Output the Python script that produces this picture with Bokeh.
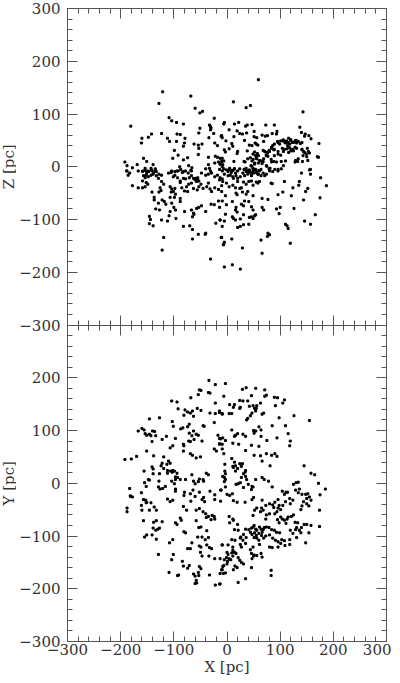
import math
from bokeh.plotting import figure
from bokeh.layouts import row
from bokeh.models import LinearAxis, FixedTicker, Range1d
from bokeh.core.properties import value
from bokeh.embed import file_html
from bokeh.resources import INLINE

# ---------------- X-Z plane (top panel), values in pc ----------------
xz_x_a = [-121,-68,-128,-60,-46,-51,-181,-109,-104,-95,-82,-51,-33,-31,-30,-31,-24,-53,-25,-10,
          -142,-148,-160,-161,-123,-112,-108,-94,-88,-95,-79,-80,-82,-62,-54,-47,-53,-34,-23,-18,
          -99,-54,-35,-22,-92,-102,-74,-82,-157,-151,-192,-188,-178,-169,-139,-143,-154,-149,-135,-141,
          -133,-158,-188,-104,-94,-87,-82,-89,-72,-66,-68,-40,-35,-33,-31,-23,-16,-10,-13,-8,-18,-13]
xz_z_a = [142,134,120,111,105,102,77,93,87,84,81,73,79,76,73,70,92,64,63,59,
          62,56,54,45,63,54,48,62,61,48,54,45,39,43,41,43,35,55,45,40,
          31,23,18,20,22,16,17,13,16,10,9,2,-2,4,4,-3,-3,-8,-4,-8,
          -9,-8,-8,-8,-8,-5,-9,0,2,-2,-7,-4,4,-3,-8,7,9,10,5,4,18,16]

xz_x_b = [59,12,36,44,143,-5,-6,14,22,35, 38,47,73,89,4,19,24,29,37,51,
          66,72,76,85,93,94,137,140,147,154, 158,146,-11,-9,13,-2,33,51,56,53,
          42,47,55,58,9,11,69,86,89,95, 99,105,110,115,120,118,125,130,104,108,
          113,120,124,141,144,151,155,149,173,172, -5,-3,4,19,20,38,52,49,54,57,
          68,72,76,80,74,77,84,89,96,101, 106,-9,-6,13,32,44,49,55,61,59,
          52,47,68,83,88,102,129,133,142,152, 157,-13,-9,5,10,14,35,41,49,60, 75,79,96]
xz_z_b = [165,123,112,116,104,84,81,81,84,77, 79,80,79,79,70,68,63,62,64,67,
          60,58,59,63,62,67,75,65,62,59, 53,58,58,55,57,49,50,57,55,45,
          41,40,43,41,44,39,48,40,43,48, 43,49,45,46,50,43,46,50,35,33,
          34,30,33,33,29,35,26,24,44,18, 32,28,34,25,29,30,28,24,21,25,
          31,28,26,29,22,20,35,33,24,22, 29,16,11,10,10,17,14,16,12,7,
          5,1,10,14,10,10,12,10,10,12, -5,5,0,-3,-7,-4,-5,-7,-4,-7, 1,-4,-5]

xz_x_c = [96,101,106,109,112,116,120,123,128,131, 134,138,141,114,118,121,125,116,128,131,
          141,146,153,143,150,134,128,110,106,93, 96,89,88,84,79,76,74,71,69,64,
          66,74,84,81,90,59,56,52,47,45, 49,54,55,59,64,50,46,40,36,34, 39,32,170]
xz_z_c = [46,49,51,46,49,54,51,46,49,45, 48,44,46,40,36,32,30,27,37,35,
          32,27,29,21,19,15,9,11,2,9, 29,21,32,37,31,27,21,29,15,11,
          6,2,9,-3,-5,21,15,7,11,2, -3,-5,-10,-14,-17,-12,-17,-9,-3,9, 15,-5,19]

xz_x_d = [-189,-183,-186,-167,-159,-154,-151,-147,-142,-138, -135,-157,-154,-152,-148,-143,-139,-133,-128,-123,
          -159,-152,-149,-154,-159,-178,-167,-129,-123,-119, -126,-124,-128,-141,-110,-105,-98,-92,-84,-78,
          -73,-67,-101,-98,-93,-88,-82,-78,-71,-67, -63,-60,-57,-55,-53,-59,-56,-48,-40,-35,
          -29,-23,-18,-13,-9,-107,-104,-98,-101,-105, -97,-99,-107,-88,-85,-76,-72,-74,-80,-88,
          -88,-67,-63,-56,-53,-49,-45,-38,-35,-32, -29,-23,-16,-10,-10,-137,-137,-129,-118,-122,
          -134,-127,-115,-104,-100,-97,-107,-109,-146,-144, -146,-139,-123,-112,-96,-80,-67,-63,-65,-62,
          -57,-53,-48,-40,-30,-24,-16,-14,-82,-70, -65,-65,-54,-41,-40,-21,-13,-10,-7,-119, -122,-31]
xz_z_d = [-8,-12,-16,-8,-9,-7,-12,-9,-6,-11, -8,-17,-21,-16,-19,-16,-14,-17,-14,-16,
          -27,-30,-33,-38,-40,-36,-40,-22,-28,-33, -40,-45,-48,-48,-12,-11,-9,-8,-11,-8,
          -12,-8,-19,-16,-21,-27,-22,-23,-21,-17, -22,-25,-28,-21,-27,-22,-24,-12,-16,-14,
          -12,-19,-16,-21,-23,-38,-42,-41,-47,-48, -52,-58,-58,-30,-40,-38,-33,-47,-46,-60,
          -66,-31,-41,-44,-38,-33,-41,-38,-31,-42, -47,-40,-43,-36,-47,-58,-63,-69,-66,-63,
          -80,-82,-71,-69,-77,-82,-85,-93,-94,-100, -108,-112,-101,-103,-98,-85,-82,-88,-95,-90,
          -79,-77,-74,-85,-71,-72,-65,-77,-113,-112, -119,-137,-128,-128,-126,-107,-101,-134,-148,-134, -158,-175]

xz_x_e = [-14,-9,-6,-1,2,5,8,11,14,16, 20,24,-5,2,6,11,12,17,20,25,
          30,33,36,39,42,44,46,49,52,55, 58,61,64,68,71,74,80,86,96,102,
          140,155,157,176,187,-14,-8,-1,4,11, 16,20,24,27,31,36,41,46,49,55,
          58,61,83,85,108,124,136,135,148,152, -3,17,19,29,36,39,49,66,77,96,
          105,121,144,175,-9,-1,10,17,16,19, 27,31,33,41,46,49,52,46,42,49,
          54,66,69,93,100,126,98,-3,10,12, 16,-13,-5,31,25,-9,20,25,31,41,
          110,113,115,146,157,166,77,80,76,64, 119,-11,9,-6,-5,29,66,-5,10,25]
xz_z_e = [-5,-8,-4,-6,-9,-5,-11,-7,-4,-12, -8,-4,-14,-17,-16,-19,-22,-17,-22,-19,
          -12,-17,-9,-14,-6,-11,-16,-8,-5,-11, -14,-8,-5,-12,-17,-14,-8,-9,-8,-4,
          -12,-6,-14,-21,-36,-25,-28,-31,-38,-35, -40,-28,-41,-40,-29,-33,-28,-27,-35,-29,
          -31,-28,-31,-32,-28,-40,-28,-35,-47,-41, -55,-50,-53,-48,-52,-47,-55,-60,-62,-53,
          -48,-55,-63,-59,-65,-72,-66,-77,-82,-86, -71,-74,-65,-66,-76,-82,-93,-95,-96,-98,
          -91,-77,-82,-80,-77,-79,-89,-90,-95,-98, -101,-101,-103,-91,-99,-113,-115,-113,-110,-109,
          -109,-112,-117,-103,-109,-91,-126,-129,-132,-139, -145,-134,-137,-147,-143,-154,-164,-190,-186,-194]

# ---------------- X-Y plane (bottom panel), values in pc ----------------
xy_x_a = [-34,-22,-52,-49,-54,-35,-32,-22,-68,-104, -94,-92,-79,-74,-81,-69,-65,-63,-56,-49,
          -32,-22,-14,-9,-146,-127,-103,-101,-71,-74, -83,-87,-45,-43,-24,-167,-160,-156,-154,-151,
          -146,-143,-140,-136,-134,-141,-122,-114,-71,-63, -66,-58,-54,-62,-72,-69,-97,-82,-81,-47,
          -17,-12,-8,-14,-9,-24,-20,-102,-107,-151, -82,-69,-65,-58,-50,-192,-180,-170,-138,-119,
          -110,-107,-122,-124,-113,-119,-112,-106,-102,-99, -94,-103,-156,-141,-139,-139,-127,-112,-97,-93,
          -88,-78,-66,-63,-52,-39,-35,-45,-44,-54, -60,-148,-155,-146,-152,-128,-129,-126,-121,-116,
          -104,-97,-99,-97,-97,-183,-182,-181,-178,-161, -157,-153,-151,-152,-143,-161,-160,-146,-137,-133,
          -188,-188,-112,-107,-102,-80,-81,-69,-64,-68, -60,-52,-47,-44,-42,-32,-23,-23,-12,-12,
          -82,-76,-58,-52,-45,-40,-35,-30,-28,-24, -23,-39,-157,-138,-133,-122,-97,-94,-88,-86,
          -139,-134,-130,-127,-81,-78,-58,-53,-49,-38, -55,-47,-41,-35,-151,-155,-141,-133,-102,-108,
          -66,-69,-74,-52,-50,-47,-49,-38,-33,-29, -34,-129,-101,-104,-74,-71,-84,-82,-52,-49,
          -54,-53,-63,-60,-58,-60,-57,-109,-91,-93, -33,-22,-13,-13,-8,-10,-7,-9,-23]
xy_y_a = [195,187,177,176,168,172,171,152,162,156, 154,141,139,135,129,133,137,127,142,138,
          133,132,134,131,122,124,117,108,112,107, 105,103,109,108,115,99,104,101,94,91,
          93,90,99,98,90,79,83,89,95,99, 90,93,91,83,80,79,85,74,71,80,
          91,84,86,75,74,65,61,71,67,61, 61,56,53,48,50,45,46,51,52,50,
          42,38,38,33,36,28,24,23,24,23, 19,21,23,31,27,18,18,19,12,11,
          7,7,16,4,8,19,16,7,4,3, -1,7,1,6,-6,4,-7,-11,-10,-6,
          4,7,-1,-11,-15,-10,-24,-25,-26,-18, -31,-32,-36,-37,-37,-42,-51,-51,-45,-51,
          -47,-54,-30,-35,-32,-17,-23,-20,-13,-34, -25,-17,-31,-27,-35,-15,-22,-31,-13,-34,
          -44,-51,-51,-48,-54,-58,-63,-69,-61,-63, -68,-65,-71,-74,-71,-73,-75,-78,-66,-70,
          -85,-89,-87,-85,-92,-94,-71,-84,-83,-90, -102,-102,-107,-103,-98,-102,-98,-106,-107,-113,
          -113,-124,-124,-119,-131,-138,-121,-117,-122,-124, -138,-135,-135,-145,-161,-156,-148,-157,-158,-162,
          -169,-175,-172,-176,-184,-190,-189,-169,-174,-175, -174,-193,-191,-143,-158,-164,-171,-117,-143]

xy_x_b = [-3,-6,29,36,54,71,74,71,89,95, 108,105,91,126,155,46,5,14,12,24,
          30,39,42,49,52,55,56,63,-14,-9, 4,9,24,25,44,47,39,37,54,69,
          66,98,-14,-14,-3,-9,-6,9,16,14, 20,30,35,51,50,54,60,64,64,75,
          85,94,110,115,119,118,60,11,22,35, 46,51,63,66,74,84,90,94,81,-4,
          -4,-8,-5,-3,-5,-3,9,14,16,11, 12,16,20,24,27,29,34,27,31,35,
          47,37,40,46,49,54,66,70,78,85, 50,-11,-3,0,5,10,12,19,34,47,
          66,65,73,80,86,90,96,17,21,25, 31,35,145,158,165,172,185,175,174,174,
          104,111,108,114,125,130,134,129,134,136, 141,148,152,155,150,144,141,150,154,158,
          139,118,124,119,110,105,101,96,98,88, 94,90,80,74,73,68,63,56,52,49,
          101,104,95,98,108,113,115,111,121,125, 128,133,131,129,136,140,145,150,158,139,
          154,49,51,46,54,56,61,64,68,70, 74,44,47,52,55,60,65,66,51,56,
          60,69,73,41,35,31,36,26,21,20, 14,12,5,4,11,79,84,89,93,99,
          80,86,91,96,108,103,101,96,109,118, 118,131,119,124,148,25,30,25,35,27,
          15,9,11,2,-9,80,85,61,49,44, 46,50,56,64,66,47,51,11,14,17,
          9,0,2,-1,4,1,-5,7,11,21, 24,27,31,15,12,19,-6,0,-3,-13, -9,-14,21,35,46,83,83]
xy_y_b = [189,165,178,181,180,177,167,165,163,162, 158,152,147,128,119,166,149,149,144,157,
          156,156,146,147,142,142,147,152,137,132, 132,132,142,144,128,133,123,120,137,133,
          131,124,85,74,81,65,56,101,91,89, 94,93,89,95,100,99,107,101,89,81,
          109,86,109,94,80,71,70,76,74,62, 72,53,52,42,56,53,56,51,33,36,
          23,13,11,7,3,18,47,40,33,32, 30,23,28,37,32,37,21,11,18,24,
          -6,7,-2,-12,-7,7,11,7,4,-7, -27,-13,-7,-21,-23,-20,-33,-36,-36,-31,
          -32,-47,-42,-39,-41,-36,-31,-2,-1,1, -8,13,33,19,16,0,-11,-22,-51,-82,
          -15,-17,-21,-17,-2,1,2,-13,-18,-11, -21,-21,-20,-26,-29,-35,-43,-39,-43,-32,
          -50,-29,-32,-39,-35,-42,-50,-47,-42,-46, -54,-58,-58,-60,-68,-51,-54,-47,-51,-61,
          -64,-68,-69,-75,-70,-68,-64,-76,-63,-60, -74,-75,-84,-88,-89,-84,-78,-78,-80,-94,
          -94,-83,-80,-85,-87,-89,-83,-87,-88,-84, -83,-93,-97,-94,-99,-95,-99,-93,-103,-104,
          -108,-104,-100,-88,-87,-97,-103,-102,-89,-78, -88,-70,-75,-63,-68,-84,-88,-89,-93,-94,
          -98,-104,-108,-111,-109,-107,-114,-121,-118,-107, -116,-103,-89,-95,-113,-104,-108,-116,-114,-121,
          -108,-107,-121,-117,-117,-121,-122,-116,-121,-126, -133,-138,-137,-133,-140,-143,-136,-127,-131,-133,
          -132,-131,-135,-141,-143,-148,-145,-145,-138,-141, -146,-150,-153,-157,-164,-160,-156,-153,-170,-171,
          -164,-191,-188,-181,-160,-165,-175]

# axis values (pc) shared by both panels
panel_ticks = [-300, -200, -100, 0, 100, 200, 300]
minor_step = 20
OFFSET = 600          # the X-Y panel is stacked one panel-height (600 pc) below the X-Z panel
y_titles = ["Z [pc]", "Y [pc]"]
x_title = "X [pc]"

xz_x = xz_x_a + xz_x_b + xz_x_c + xz_x_d + xz_x_e
xz_z = xz_z_a + xz_z_b + xz_z_c + xz_z_d + xz_z_e
xy_x = xy_x_a + xy_x_b
xy_y = xy_y_a + xy_y_b

FONT = "DejaVu Serif"
INK = "#555555"
TXT = "#333333"
FRAME_H = 633
TOP = 8
BOTTOM = 40
DOT = 2.0


def minus(v):
    return str(v).replace("-", "\u2212")


# stacked coordinate: top panel uses Z directly, bottom panel is shifted down by OFFSET
stack_major = sorted(set(panel_ticks + [t - OFFSET for t in panel_ticks]))
stack_minor = list(range(-300 - OFFSET, 301, minor_step))
left_labels = {}
for t in panel_ticks:
    left_labels[t] = minus(t)
for t in panel_ticks:
    if t < 300:
        left_labels[t - OFFSET] = minus(t)


def style(ax, ticks, minor, tin=10, tout=0, mtin=5, mtout=0):
    ax.ticker = FixedTicker(ticks=ticks, minor_ticks=minor)
    ax.major_tick_in = tin
    ax.major_tick_out = tout
    ax.minor_tick_in = mtin
    ax.minor_tick_out = mtout
    ax.axis_line_color = INK
    ax.major_tick_line_color = INK
    ax.minor_tick_line_color = INK
    ax.major_label_text_font = FONT
    ax.major_label_text_font_size = "15px"
    ax.major_label_text_color = TXT
    ax.axis_label_text_font = FONT
    ax.axis_label_text_font_size = "15px"
    ax.axis_label_text_font_style = "normal"
    ax.axis_label_text_color = TXT


def blank(ax, ticks):
    ax.major_label_overrides = {t: "" for t in ticks}
    ax.major_label_text_font_size = "1px"
    ax.major_label_standoff = 0


x_ticks = panel_ticks
x_minor = list(range(-300, 301, minor_step))

p = figure(frame_width=319, frame_height=FRAME_H,
           x_range=Range1d(-300, 300), y_range=Range1d(-300 - OFFSET, 300),
           x_axis_location=None, y_axis_location=None,
           output_backend="svg", toolbar_location=None,
           min_border_top=TOP, min_border_bottom=0, min_border_left=50, min_border_right=5)
p.extra_y_ranges = {"xy": Range1d(-300, 300 + OFFSET)}
p.grid.visible = False
p.outline_line_color = INK

left = LinearAxis()
style(left, stack_major, stack_minor)
left.major_label_overrides = left_labels
left.major_label_standoff = 7
p.add_layout(left, "left")

right = LinearAxis()
style(right, stack_major, stack_minor)
blank(right, stack_major)
p.add_layout(right, "right")

top = LinearAxis()
style(top, x_ticks, x_minor)
blank(top, x_ticks)
p.add_layout(top, "above")

bottom = LinearAxis(axis_label=x_title)
style(bottom, x_ticks, x_minor)
bottom.major_label_overrides = {t: minus(t) for t in x_ticks}
bottom.major_label_standoff = 2
bottom.axis_label_standoff = 0
p.add_layout(bottom, "below")

# shared boundary between the two panels (Z = -300 / Y = +300), ticks both ways
mid = LinearAxis(fixed_location=-300)
style(mid, x_ticks, x_minor, tin=10, tout=10, mtin=5, mtout=5)
blank(mid, x_ticks)
p.add_layout(mid, "below")

p.scatter(xz_x, xz_z, marker="square", size=DOT, color="black")
p.scatter(xy_x, xy_y, marker="square", size=DOT, color="black", y_range_name="xy")

# narrow strip to the left carrying the two vertical axis titles, aligned to the same y scale
lab = figure(frame_width=16, frame_height=FRAME_H,
             x_range=Range1d(0, 1), y_range=Range1d(-300 - OFFSET, 300),
             x_axis_location=None, y_axis_location=None,
             output_backend="svg", toolbar_location=None,
             min_border_top=TOP, min_border_bottom=BOTTOM, min_border_left=0, min_border_right=0)
lab.grid.visible = False
lab.outline_line_color = None
lab.text(x=[0.5, 0.5], y=[0, -OFFSET], text=y_titles, angle=math.pi / 2,
         text_align="center", text_baseline="middle",
         text_font=value(FONT), text_font_size=value("15px"), text_color=TXT)

layout = row(lab, p)
open("out.html", "w").write(file_html(layout, INLINE))
